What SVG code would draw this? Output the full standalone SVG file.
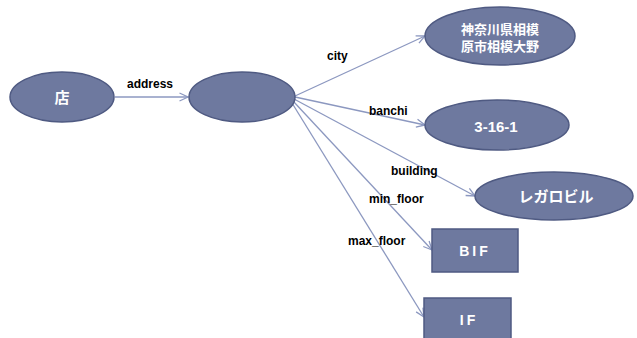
<svg xmlns="http://www.w3.org/2000/svg" width="637" height="338" viewBox="0 0 637 338">
  <defs>
    <marker id="arrow" viewBox="0 0 10 10" refX="9.5" refY="5" markerWidth="10" markerHeight="10" markerUnits="userSpaceOnUse" orient="auto">
      <path d="M1,1 L9.5,5 L1,9" fill="none" stroke="#8C98C0" stroke-width="1.3"/>
    </marker>
  </defs>
  <style>
    .node { fill: #6E799F; stroke: #4F5A82; stroke-width: 1.5; }
    .ntext { fill: #FFFFFF; font-family: "Liberation Sans", "Noto Sans CJK JP", sans-serif; font-weight: bold; text-anchor: middle; dominant-baseline: central; }
    .edge { stroke: #8C98C0; stroke-width: 1.3; fill: none; marker-end: url(#arrow); }
    .elabel { fill: #000000; font-family: "Liberation Sans", sans-serif; font-weight: bold; font-size: 12px; }
  </style>
  <rect width="637" height="338" fill="#FFFFFF"/>

  <g id="connectors">
    <line class="edge" x1="115" y1="97" x2="188" y2="97"/>
    <line class="edge" x1="295" y1="96" x2="425" y2="36"/>
    <line class="edge" x1="295" y1="97" x2="425" y2="125"/>
    <line class="edge" x1="294" y1="99" x2="475" y2="196"/>
    <line class="edge" x1="293" y1="101" x2="432" y2="250"/>
    <line class="edge" x1="292" y1="103" x2="424" y2="317"/>
    <text class="elabel" x="127" y="88">address</text>
    <text class="elabel" x="327" y="60">city</text>
    <text class="elabel" x="369" y="115">banchi</text>
    <text class="elabel" x="391" y="175">building</text>
    <text class="elabel" x="369" y="203">min_floor</text>
    <text class="elabel" x="348" y="245">max_floor</text>
  </g>

  <g id="shop">
    <ellipse class="node" cx="62" cy="97" rx="52" ry="25"/>
    <text class="ntext" x="62" y="97" font-size="15">店</text>
  </g>

  <g id="address">
    <ellipse class="node" cx="242" cy="97" rx="53" ry="25"/>
  </g>

  <g id="city">
    <ellipse class="node" cx="500" cy="36" rx="75" ry="29"/>
    <text class="ntext" x="500" y="29" font-size="13">神奈川県相模</text>
    <text class="ntext" x="500" y="46" font-size="13">原市相模大野</text>
  </g>

  <g id="banchi">
    <ellipse class="node" cx="497" cy="125" rx="72" ry="25"/>
    <text class="ntext" x="496" y="126" font-size="15">3-16-1</text>
  </g>

  <g id="building">
    <ellipse class="node" cx="554" cy="196" rx="79" ry="24"/>
    <text class="ntext" x="556" y="196" font-size="15">レガロビル</text>
  </g>

  <g id="min_floor">
    <rect class="node" x="432" y="229" width="86" height="43"/>
    <text class="ntext" x="475" y="251" font-size="14" letter-spacing="3">BIF</text>
  </g>

  <g id="max_floor">
    <rect class="node" x="424" y="298" width="87" height="45"/>
    <text class="ntext" x="469" y="320" font-size="14" letter-spacing="3">IF</text>
  </g>
</svg>
